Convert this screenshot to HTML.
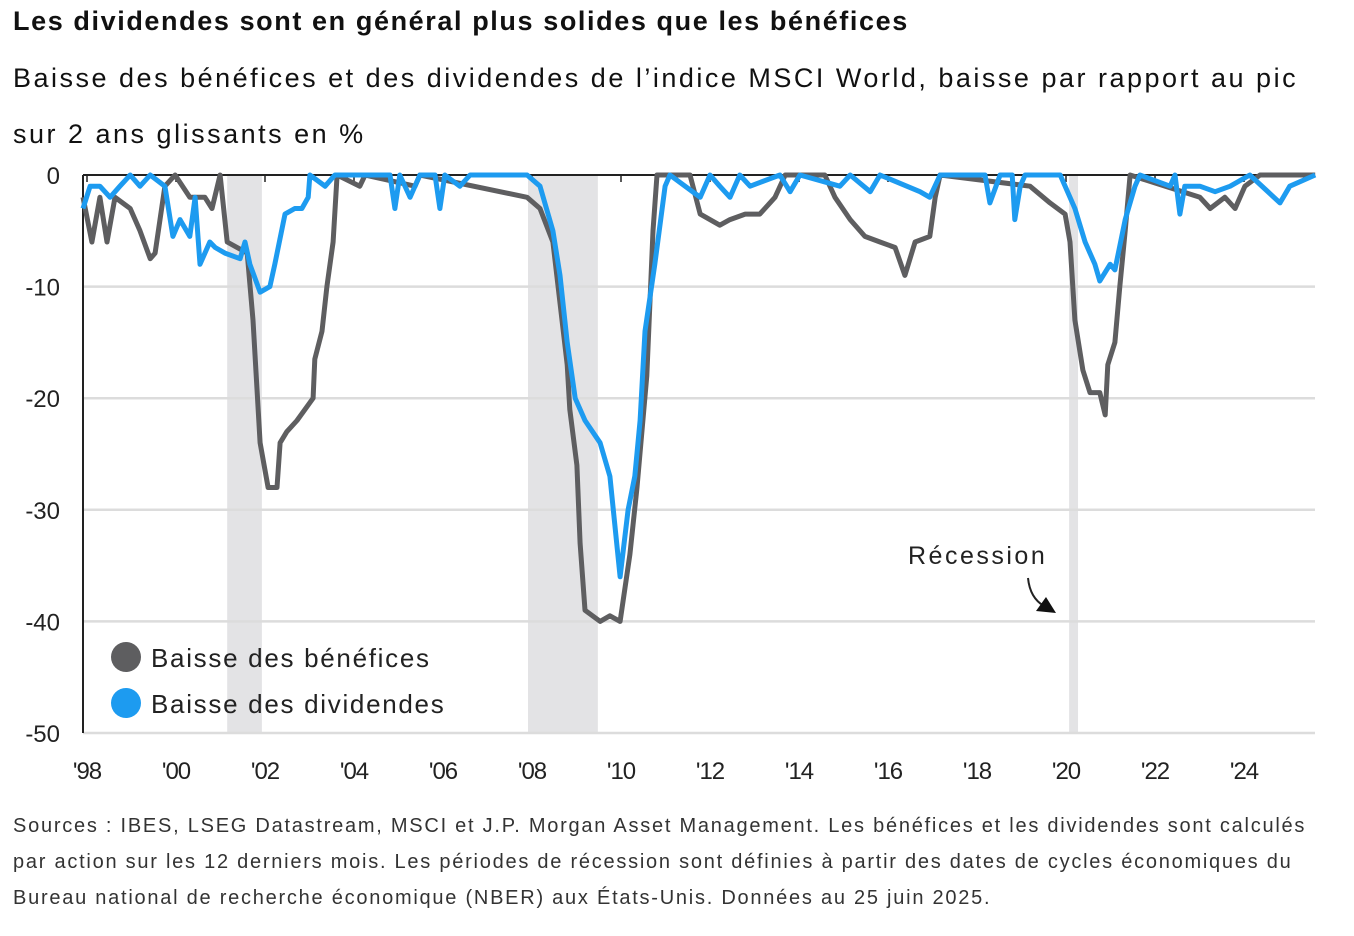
<!DOCTYPE html>
<html><head><meta charset="utf-8">
<style>
body{margin:0;background:#fff;width:1354px;height:936px;overflow:hidden;font-family:"Liberation Sans",sans-serif;color:#111}
.t{position:absolute;left:13px;white-space:nowrap}
</style></head><body>
<div class="t" style="top:6px;font-size:27px;font-weight:bold;letter-spacing:1.6px">Les dividendes sont en général plus solides que les bénéfices</div>
<div class="t" style="top:50px;font-size:27px;line-height:56px;letter-spacing:2.5px">Baisse des bénéfices et des dividendes de l’indice MSCI World, baisse par rapport au pic<br>sur 2 ans glissants en %</div>
<svg id="chart" width="1354" height="800" style="position:absolute;left:0;top:0"></svg>
<div class="t" style="top:808px;font-size:20px;line-height:36px;color:#333;letter-spacing:1.75px">Sources : IBES, LSEG Datastream, MSCI et J.P. Morgan Asset Management. Les bénéfices et les dividendes sont calculés<br>par action sur les 12 derniers mois. Les périodes de récession sont définies à partir des dates de cycles économiques du<br>Bureau national de recherche économique (NBER) aux États-Unis. Données au 25 juin 2025.</div>
<script>
const earnYears=[1997.91,1998.11,1998.29,1998.45,1998.63,1998.97,1999.19,1999.42,1999.53,1999.64,1999.75,1999.98,2000.31,2000.65,2000.81,2000.99,2001.15,2001.6,2001.73,2001.89,2002.07,2002.27,2002.34,2002.49,2002.72,2003.08,2003.12,2003.28,2003.39,2003.53,2003.62,2004.13,2004.25,2005.37,2005.48,2007.89,2008.18,2008.47,2008.79,2008.85,2009.01,2009.08,2009.19,2009.53,2009.75,2009.98,2010.2,2010.36,2010.58,2010.72,2010.81,2011.55,2011.78,2012.22,2012.45,2012.79,2013.12,2013.46,2013.69,2014.58,2014.81,2015.15,2015.48,2015.82,2016.16,2016.38,2016.61,2016.94,2017.06,2017.17,2019.19,2019.64,2019.98,2020.09,2020.2,2020.38,2020.54,2020.76,2020.88,2020.94,2021.1,2021.21,2021.33,2021.44,2023.01,2023.24,2023.57,2023.8,2024.02,2024.36,2025.6];
const earnValues=[-2,-6,-2,-6,-2,-3,-5,-7.5,-7,-4,-1,0,-2,-2,-3,0,-6,-7,-13,-24,-28,-28,-24,-23,-22,-20,-16.5,-14,-10,-6,0,-1,0,-1,0,-2,-3,-6,-17,-21,-26,-33,-39,-40,-39.5,-40,-34,-28,-18,-5,0,0,-3.5,-4.5,-4,-3.5,-3.5,-2,0,0,-2,-4,-5.5,-6,-6.5,-9,-6,-5.5,-2,0,-1,-2.5,-3.5,-6,-13,-17.5,-19.5,-19.5,-21.5,-17,-15,-10,-5,0,-2,-3,-2,-3,-1,0,0];
const divYears=[1997.91,1998.07,1998.29,1998.52,1998.74,1998.97,1999.19,1999.42,1999.75,1999.93,2000.09,2000.31,2000.43,2000.54,2000.76,2000.88,2001.1,2001.44,2001.55,2001.66,2001.89,2002.11,2002.22,2002.45,2002.67,2002.83,2002.97,2003.01,2003.35,2003.57,2004.81,2004.92,2005.03,2005.26,2005.48,2005.82,2005.93,2006.04,2006.38,2006.61,2007.89,2008.18,2008.47,2008.63,2008.79,2008.97,2009.19,2009.53,2009.75,2009.98,2010.16,2010.31,2010.43,2010.54,2010.76,2010.99,2011.1,2011.78,2012.0,2012.22,2012.45,2012.67,2012.9,2013.57,2013.8,2014.02,2014.92,2015.15,2015.6,2015.82,2016.72,2016.94,2017.17,2018.18,2018.29,2018.52,2018.79,2018.85,2018.97,2019.08,2019.87,2020.2,2020.43,2020.65,2020.76,2020.99,2021.1,2021.33,2021.55,2021.66,2022.34,2022.45,2022.56,2022.67,2023.01,2023.35,2023.69,2024.13,2024.81,2025.03,2025.6];
const divValues=[-3,-1,-1,-2,-1,0,-1,0,-1,-5.5,-4,-5.5,-2,-8,-6,-6.5,-7,-7.5,-6,-8,-10.5,-10,-8,-3.5,-3,-3,-2,0,-1,0,0,-3,0,-2,0,0,-3,0,-1,0,0,-1,-5,-9,-15,-20,-22,-24,-27,-36,-30,-27,-22,-14,-8,-1,0,-2,0,-1,-2,0,-1,0,-1.5,0,-1,0,-1.5,0,-1.5,-2,0,0,-2.5,0,0,-4,-1,0,0,-3,-6,-8,-9.5,-8,-8.5,-4,-1,0,-1,0,-3.5,-1,-1,-1.5,-1,0,-2.5,-1,0];
const recessions=[[2001.15,2001.93],[2007.91,2009.48],[2020.07,2020.27]];
const yTicks=[0,-10,-20,-30,-40,-50];
const xTickYears=[1998,2000,2002,2004,2006,2008,2010,2012,2014,2016,2018,2020,2022,2024];
const xTickLabels=["'98","'00","'02","'04","'06","'08","'10","'12","'14","'16","'18","'20","'22","'24"];

const NS="http://www.w3.org/2000/svg";
const svg=document.getElementById('chart');
const X0=83,X1=1315;
function xs(y){return 87+(y-1998)*44.5;}
function ys(v){return 175-v*11.16;}
function mk(tag,attrs,parent){const e=document.createElementNS(NS,tag);for(const k in attrs)e.setAttribute(k,attrs[k]);(parent||svg).appendChild(e);return e;}

recessions.forEach(r=>{
  const e=mk('rect',{x:xs(r[0]),y:ys(0),width:xs(r[1])-xs(r[0]),height:ys(-50)-ys(0),fill:'#e3e3e5'});
  
  
});
yTicks.forEach(t=>{
  const l=mk('line',{x1:X0,x2:X1,y1:ys(t),y2:ys(t),stroke:t===0?'#222':'#dcdcdc','stroke-width':t===0?2:2.5});
  
  
  const tx=mk('text',{x:60,y:ys(t)+9,'text-anchor':'end','font-size':24,fill:'#222','font-family':'Liberation Sans, sans-serif'});
  tx.textContent=t;
  
  
});
const ax=mk('line',{x1:X0,x2:X0,y1:ys(0),y2:ys(-50),stroke:'#222','stroke-width':2});


xTickYears.forEach((y,i)=>{
  const tk=mk('line',{x1:xs(y),x2:xs(y),y1:ys(0),y2:ys(0)+7,stroke:'#222','stroke-width':1.5});
  
  
  const tx=mk('text',{x:xs(y),y:779,'text-anchor':'middle','font-size':24,fill:'#222','font-family':'Liberation Sans, sans-serif','letter-spacing':'-1'});
  tx.textContent=xTickLabels[i];
  
  
});
function line(yrs,vals,color,name){
  const d=yrs.map((y,i)=>(i?'L':'M')+xs(y).toFixed(1)+','+ys(vals[i]).toFixed(1)).join('');
  const p=mk('path',{d:d,fill:'none',stroke:color,'stroke-width':5,'stroke-linejoin':'round'});
  
  
}
line(earnYears,earnValues,'#5e5e60','earnings-line');
line(divYears,divValues,'#1d9bf0','dividends-line');

const g1=mk('circle',{cx:126,cy:657,r:15,fill:'#5e5e60'});


const t1=mk('text',{x:151,y:667,'font-size':26,fill:'#222','letter-spacing':'1.7','font-family':'Liberation Sans, sans-serif'});
t1.textContent='Baisse des bénéfices';


const g2=mk('circle',{cx:126,cy:703,r:15,fill:'#1d9bf0'});


const t2=mk('text',{x:151,y:713,'font-size':26,fill:'#222','letter-spacing':'1.7','font-family':'Liberation Sans, sans-serif'});
t2.textContent='Baisse des dividendes';


const ra=mk('text',{x:908,y:564,'font-size':25,fill:'#222','letter-spacing':'2.5','font-family':'Liberation Sans, sans-serif'});
ra.textContent='Récession';


const ar=mk('path',{d:'M1028,578 Q1030,598 1044,606',fill:'none',stroke:'#222','stroke-width':2});


const ah=mk('path',{d:'M1056,613 L1036,611 L1046,597 Z',fill:'#111'});


</script>
</body></html>
